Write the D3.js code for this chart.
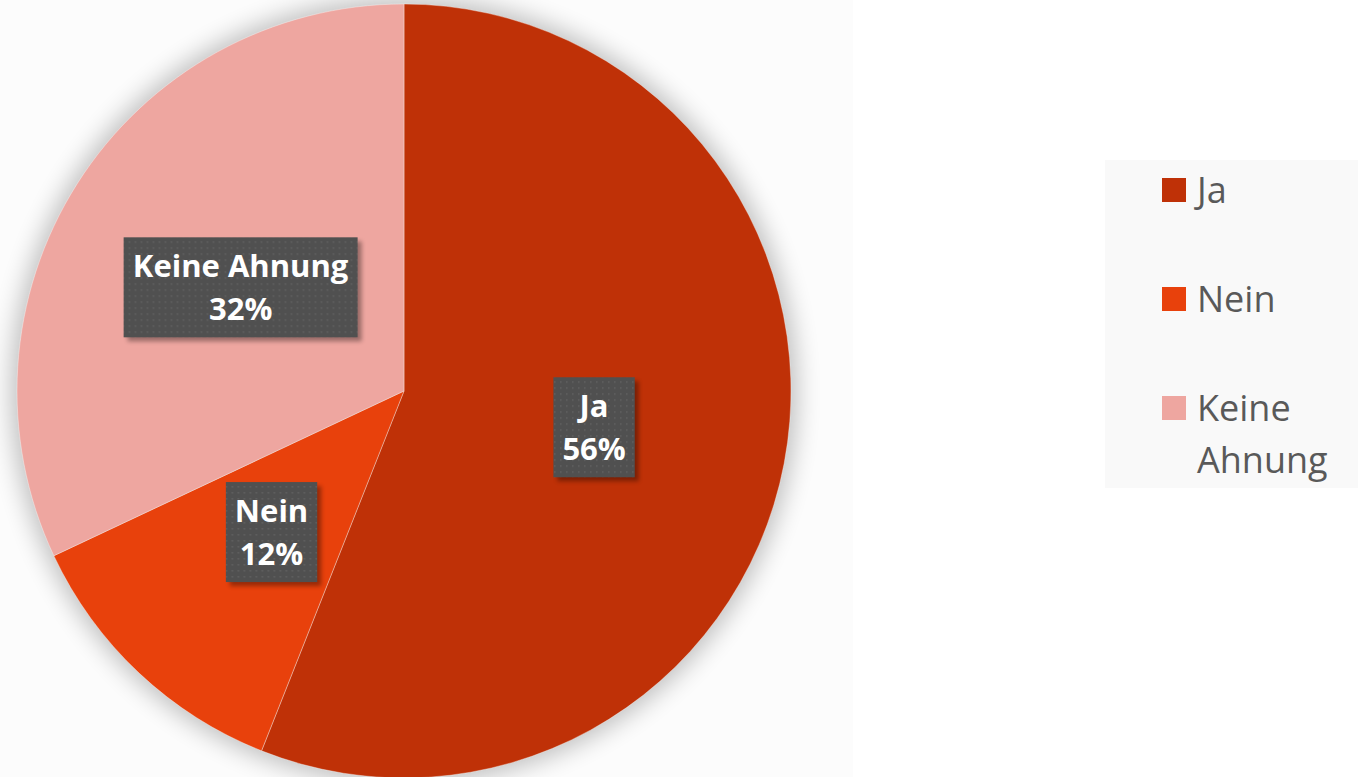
<!DOCTYPE html>
<html>
<head>
<meta charset="utf-8">
<script src="https://cdn.jsdelivr.net/npm/d3@7"></script>
<style>
  body { margin: 0; background: #fff; }
  text { font-family: "Open Sans", sans-serif; }
</style>
</head>
<body>
<div id="container"></div>
<script>
var width = 1358,
    height = 777;

// data
var categories = ["Ja", "Nein", "Keine Ahnung"];
var values = [56, 12, 32];
var legendLines = [["Ja"], ["Nein"], ["Keine", "Ahnung"]];
var colors = ["#bf3107", "#e8410c", "#eea6a0"];

var cx = 404, cy = 391, radius = 387;

var svg = d3.select("#container").append("svg")
    .attr("width", width)
    .attr("height", height);

var defs = svg.append("defs");

var glow = defs.append("filter").attr("id", "glow")
    .attr("x", "-20%").attr("y", "-20%").attr("width", "140%").attr("height", "140%");
glow.append("feGaussianBlur").attr("stdDeviation", 12);

var boxShadow = defs.append("filter").attr("id", "boxShadow")
    .attr("x", "-20%").attr("y", "-20%").attr("width", "140%").attr("height", "140%");
boxShadow.append("feGaussianBlur").attr("stdDeviation", 2);

var pat = defs.append("pattern").attr("id", "dots")
    .attr("width", 6).attr("height", 6).attr("patternUnits", "userSpaceOnUse");
pat.append("rect").attr("width", 6).attr("height", 6).attr("fill", "#505050");
pat.append("rect").attr("x", 2).attr("y", 2).attr("width", 1.5).attr("height", 1.5).attr("fill", "#626262");

// plot area
svg.append("rect")
    .attr("x", 0).attr("y", 0)
    .attr("width", 853).attr("height", height)
    .attr("fill", "#fcfcfc");

var g = svg.append("g").attr("transform", "translate(" + cx + "," + cy + ")");

g.append("circle")
    .attr("r", radius + 6)
    .attr("fill", "#000")
    .attr("opacity", 0.24)
    .attr("filter", "url(#glow)");

var pie = d3.pie().sort(null).value(function(d) { return d; });
var arcs = pie(values);
var arc = d3.arc().innerRadius(0).outerRadius(radius);

g.selectAll("path.slice")
    .data(arcs)
    .enter().append("path")
    .attr("class", "slice")
    .attr("d", arc)
    .attr("fill", function(d, i) { return colors[i]; })
    .attr("stroke", "rgba(255,255,255,0.35)")
    .attr("stroke-width", 1);

// data labels
var labels = g.selectAll("g.label")
    .data(arcs)
    .enter().append("g")
    .attr("class", "label")
    .attr("transform", function(d) { return "translate(" + arc.centroid(d) + ")"; });

labels.each(function(d, i) {
    var lg = d3.select(this);
    var shadow = lg.append("rect");
    var box = lg.append("rect");
    var t = lg.append("text")
        .attr("text-anchor", "middle")
        .attr("fill", "#fff")
        .attr("font-weight", "bold")
        .attr("font-size", 31);
    t.append("tspan").attr("x", 0).attr("y", -10).text(categories[i]);
    t.append("tspan").attr("x", 0).attr("y", 33).text(values[i] + "%");
    var w = t.node().getBBox().width + 18;
    shadow.attr("x", -w / 2 + 4).attr("y", -50 + 4)
        .attr("width", w).attr("height", 100)
        .attr("fill", "#000").attr("opacity", 0.35)
        .attr("filter", "url(#boxShadow)");
    box.attr("x", -w / 2).attr("y", -50)
        .attr("width", w).attr("height", 100)
        .attr("fill", "url(#dots)");
});

// legend
svg.append("rect")
    .attr("x", 1105).attr("y", 160)
    .attr("width", 253).attr("height", 328)
    .attr("fill", "#f9f9f9");

var legend = svg.selectAll("g.legend")
    .data(categories)
    .enter().append("g")
    .attr("class", "legend")
    .attr("transform", function(d, i) { return "translate(1162," + (178 + i * 109) + ")"; });

legend.append("rect")
    .attr("width", 24).attr("height", 24)
    .attr("fill", function(d, i) { return colors[i]; });

legend.append("text")
    .attr("fill", "#595959")
    .attr("font-size", 36)
    .each(function(d, i) {
        var t = d3.select(this);
        legendLines[i].forEach(function(line, j) {
            t.append("tspan").attr("x", 35).attr("y", 25 + j * 52).text(line);
        });
    });
</script>
</body>
</html>
